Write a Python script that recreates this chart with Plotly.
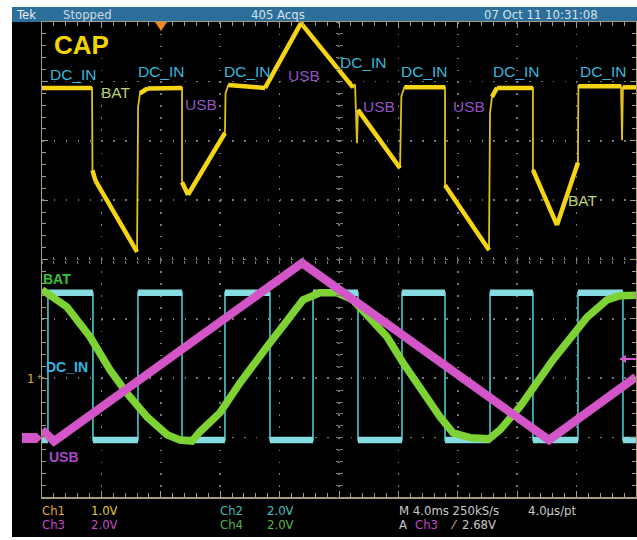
import plotly.graph_objects as go

W, H = 637, 540

# ---------------- data (time in ms, 4 ms/div; vertical in screen divisions, -4..4) -------------
cap_t = [0, 3.37, 3.40, 3.60, 6.40, 6.42, 6.47, 6.60, 7.10, 9.43, 9.43, 9.83, 12.32, 12.36,
         12.55, 15.02, 17.44, 20.94, 21.08, 21.21, 21.28, 24.11, 24.20, 24.40, 27.14, 27.14,
         30.10, 30.17, 30.30, 30.64, 33.06, 33.06, 34.68, 36.09, 36.12, 38.99, 39.06, 39.12, 40.0]
cap_div = [2.89, 2.89, 1.50, 1.33, 0.13, 1.90, 2.57, 2.80, 2.88, 2.89, 1.30, 1.09, 2.13, 2.80,
           2.94, 2.89, 3.98, 2.90, 2.95, 1.96, 2.52, 1.54, 2.75, 2.90, 2.90, 1.25,
           0.16, 2.47, 2.74, 2.89, 2.89, 1.51, 0.58, 1.63, 2.92, 2.92, 2.01, 2.90, 2.90]

usb_t = [0, 0.81, 17.51, 34.14, 40.0]
usb_div = [-2.87, -3.06, -0.06, -3.04, -1.98]

bat_t = [0, 1.68, 3.23, 4.58, 5.72, 7.07, 8.42, 9.29, 10.10, 10.64, 11.99, 13.33, 15.15, 16.50,
         17.58, 18.72, 19.87, 20.94, 22.09, 23.23, 24.31, 25.45, 26.80, 27.68, 28.82, 30.10,
         30.84, 32.19, 34.41, 36.71, 38.05, 38.92, 40.0]
bat_div = [-0.51, -0.80, -1.30, -1.86, -2.25, -2.65, -2.95, -3.04, -3.06, -2.90, -2.58, -2.08,
           -1.47, -1.02, -0.68, -0.56, -0.56, -0.68, -0.97, -1.30, -1.74, -2.16, -2.65, -2.92,
           -3.00, -3.02, -2.87, -2.48, -1.69, -0.97, -0.68, -0.61, -0.60]

dcin_edges_ms = [0.40, 3.43, 6.46, 9.43, 12.32, 15.35, 18.25, 21.28, 24.24, 27.14, 30.17,
                 33.06, 36.09, 39.12]
dcin_levels_div = [-3.04, -0.56]   # low, high ; trace starts low

T_END = 40.0

# ---------------- build step trace for DC_IN from its edges ----------------
lvl = 0
dc_x, dc_y = [0.0], [dcin_levels_div[lvl]]
flat_x, flat_y = [], []
prev = 0.0
for e in dcin_edges_ms:
    flat_x += [prev, e, None]
    flat_y += [dcin_levels_div[lvl], dcin_levels_div[lvl], None]
    dc_x += [e, e]
    dc_y += [dcin_levels_div[lvl], dcin_levels_div[1 - lvl]]
    lvl = 1 - lvl
    prev = e
dc_x.append(T_END)
dc_y.append(dcin_levels_div[lvl])
flat_x += [prev, T_END]
flat_y += [dcin_levels_div[lvl], dcin_levels_div[lvl]]

# CAP: thick for non-vertical segments, thin everywhere
cap_thick_x, cap_thick_y = [], []
for i in range(len(cap_t) - 1):
    if cap_t[i + 1] - cap_t[i] >= 0.2:
        cap_thick_x += [cap_t[i], cap_t[i + 1], None]
        cap_thick_y += [cap_div[i], cap_div[i + 1], None]

YEL = "#f4d414"
CYAN = "#86dce0"
CYAN_EDGE = "#3fb2b8"
GREEN = "#7ed234"
MAG = "#d455c8"

fig = go.Figure()
fig.add_trace(go.Scatter(x=dc_x, y=dc_y, mode="lines", line=dict(color=CYAN_EDGE, width=1.8)))
fig.add_trace(go.Scatter(x=flat_x, y=flat_y, mode="lines", line=dict(color=CYAN, width=6.5)))
fig.add_trace(go.Scatter(x=bat_t, y=bat_div, mode="lines", line=dict(color=GREEN, width=7.5)))
fig.add_trace(go.Scatter(x=usb_t, y=usb_div, mode="lines", line=dict(color=MAG, width=8.5)))
fig.add_trace(go.Scatter(x=cap_t, y=cap_div, mode="lines", line=dict(color="#e0c020", width=1.8)))
fig.add_trace(go.Scatter(x=cap_thick_x, y=cap_thick_y, mode="lines", line=dict(color=YEL, width=4.5)))
# empty traces to host the centre cross-hair axes
for xa, ya in [("x2", "y"), ("x3", "y"), ("x", "y2"), ("x", "y3")]:
    fig.add_trace(go.Scatter(x=[None], y=[None], xaxis=xa, yaxis=ya, mode="lines", hoverinfo="skip"))

FRAME = "#a59c80"
GRID = "#787878"
DASH = "1.6px,10.28px"

def px(x):
    return x / W

def py(y):
    return 1 - y / H

xdom = [px(42), px(636)]
ydom = [py(497), py(22)]

common = dict(showticklabels=False, zeroline=False, fixedrange=True)
fig.update_layout(
    width=W, height=H, margin=dict(l=0, r=0, t=0, b=0),
    paper_bgcolor="black", plot_bgcolor="black", showlegend=False, hovermode=False,
    xaxis=dict(domain=xdom, range=[0, 40], tick0=0, dtick=4, showgrid=True, gridcolor=GRID,
               gridwidth=1.6, griddash=DASH, showline=True, linecolor=FRAME, linewidth=1.5,
               mirror="ticks", ticks="inside", ticklen=6, tickcolor=FRAME, tickwidth=1,
               minor=dict(dtick=0.8, tick0=0, ticks="inside", ticklen=4, tickcolor=FRAME,
                          showgrid=False), **common),
    yaxis=dict(domain=ydom, range=[-4, 4], tick0=0, dtick=1, showgrid=True, gridcolor=GRID,
               gridwidth=1.6, griddash=DASH, showline=True, linecolor=FRAME, linewidth=1.5,
               mirror="ticks", ticks="inside", ticklen=6, tickcolor=FRAME, tickwidth=1,
               minor=dict(dtick=0.2, tick0=0, ticks="inside", ticklen=4, tickcolor=FRAME,
                          showgrid=False), **common),
    xaxis2=dict(overlaying="x", anchor="free", position=py(259.5), range=[0, 40], showgrid=False,
                showline=False, ticks="inside", ticklen=3, tickcolor=GRID, tick0=0, dtick=4,
                minor=dict(dtick=0.8, tick0=0, ticks="inside", ticklen=3, tickcolor=GRID), **common),
    xaxis3=dict(overlaying="x", anchor="free", position=py(259.5), range=[0, 40], showgrid=False,
                showline=False, ticks="outside", ticklen=3, tickcolor=GRID, tick0=0, dtick=4,
                minor=dict(dtick=0.8, tick0=0, ticks="outside", ticklen=3, tickcolor=GRID), **common),
    yaxis2=dict(overlaying="y", anchor="free", position=px(339), range=[-4, 4], showgrid=False,
                showline=False, ticks="inside", ticklen=3, tickcolor=GRID, tick0=0, dtick=1,
                minor=dict(dtick=0.2, tick0=0, ticks="inside", ticklen=3, tickcolor=GRID), **common),
    yaxis3=dict(overlaying="y", anchor="free", position=px(339), range=[-4, 4], showgrid=False,
                showline=False, ticks="outside", ticklen=3, tickcolor=GRID, tick0=0, dtick=1,
                minor=dict(dtick=0.2, tick0=0, ticks="outside", ticklen=3, tickcolor=GRID), **common),
)

def path(points):
    s = "M " + " L ".join(f"{px(a):.5f},{py(b):.5f}" for a, b in points) + " Z"
    return s

def prect(x0, y0, x1, y1, color):
    return dict(type="rect", xref="paper", yref="paper", x0=px(x0), x1=px(x1), y0=py(y1), y1=py(y0),
                fillcolor=color, line=dict(width=0), layer="below")

shapes = [
    prect(0, 0, 12, H, "white"),
    prect(0, 0, W, 7, "white"),
    prect(0, 537, W, H, "white"),
    prect(12, 7, W, 22, "#2d6f9b"),
    dict(type="path", xref="paper", yref="paper", path=path([(155, 22), (167, 22), (161, 31)]),
         fillcolor="#f08a20", line=dict(width=0)),
    dict(type="path", xref="paper", yref="paper",
         path=path([(22, 433), (37, 433), (42, 438), (37, 443), (22, 443)]),
         fillcolor=MAG, line=dict(width=0)),
    dict(type="line", xref="paper", yref="paper", x0=px(624), x1=px(636), y0=py(359), y1=py(359),
         line=dict(color=MAG, width=2)),
    dict(type="path", xref="paper", yref="paper", path=path([(619, 359), (626, 355), (626, 363)]),
         fillcolor=MAG, line=dict(width=0)),
]
fig.update_layout(shapes=shapes)

LBL = "Liberation Sans, Arial, sans-serif"
NARROW = "Liberation Sans Narrow, Arial Narrow, DejaVu Sans Condensed, sans-serif"

def ann(text, x, y, color, size, bold=False, family=LBL, xanchor="center", height=None):
    t = f"<b>{text}</b>" if bold else text
    d = dict(text=t, x=px(x), y=py(y), xref="paper", yref="paper", showarrow=False,
             xanchor=xanchor, yanchor="middle", font=dict(family=family, size=size, color=color))
    if height is not None:
        d["height"] = height
        d["borderpad"] = 0
    return d

DCC = "#3ab6dc"
USBC = "#9450c4"
BATC = "#bcd274"

def foot(text, x, y, color):
    return ann(text, x, y, color, 13, family=NARROW, xanchor="left", height=13)

anns = [
    ann("CAP", 81, 45, "#f2d400", 26, bold=True),
    ann("DC_IN", 73, 74, DCC, 15.5), ann("DC_IN", 161, 72, DCC, 15.5), ann("DC_IN", 247, 72, DCC, 15.5),
    ann("DC_IN", 363, 62, DCC, 15.5), ann("DC_IN", 424, 72, DCC, 15.5), ann("DC_IN", 516, 72, DCC, 15.5),
    ann("DC_IN", 603, 72, DCC, 15.5),
    ann("BAT", 116, 92, BATC, 15.5), ann("BAT", 583, 200, BATC, 15.5),
    ann("USB", 201, 105, USBC, 15.5), ann("USB", 304, 76, USBC, 15.5), ann("USB", 379, 106, USBC, 15.5),
    ann("USB", 469, 106, USBC, 15.5),
    ann("BAT", 57, 279, "#38c038", 14, bold=True),
    ann("DC_IN", 67, 367, "#34b8e0", 14, bold=True),
    ann("USB", 64, 457, "#a848c4", 14, bold=True),
    ann("1", 30, 378, "#d8b448", 13, family=NARROW),
    ann("+", 39, 377, "#d8b448", 9),
    # top status bar
    ann("Tek", 14, 14.5, "#e2ecf2", 13, family=NARROW, xanchor="left"),
    ann("Stopped", 61, 14.5, "#c8d8e2", 13, family=NARROW, xanchor="left"),
    ann("405 Acqs", 278, 14.5, "#d4e0e8", 13, family=NARROW),
    ann("07 Oct 11 10:31:08", 541, 14.5, "#d4e0e8", 13, family=NARROW),
    # bottom readout
    foot("Ch1", 41, 510, "#e0a838"),
    foot("1.0V", 90, 510, "#e8c440"),
    foot("Ch3", 41, 524, "#c848c8"),
    foot("2.0V", 90, 524, "#c848c8"),
    foot("Ch2", 219, 510, "#48b8b8"),
    foot("2.0V", 266, 510, "#48c0c0"),
    foot("Ch4", 219, 524, "#50b050"),
    foot("2.0V", 266, 524, "#58b848"),
    foot("M 4.0ms 250kS/s", 398, 510, "#c8c8c8"),
    foot("4.0µs/pt", 527, 510, "#c8c8c8"),
    foot("A", 398, 524, "#c8c8c8"),
    foot("Ch3", 414, 524, "#c848c8"),
    foot("⁄", 449, 524, "#c8c8c8"),
    foot("2.68V", 461, 524, "#c8c8c8"),
]
fig.update_layout(annotations=anns)

fig.write_html("out.html", config={"displayModeBar": False, "staticPlot": True},
               post_script="document.body.style.margin='0';document.body.style.overflow='hidden';")
